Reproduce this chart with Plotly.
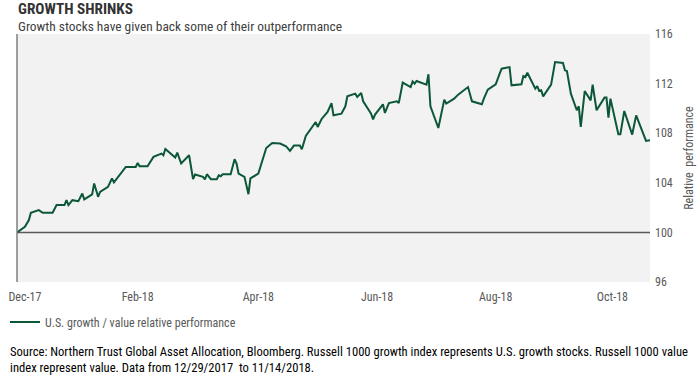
import plotly.graph_objects as go

dates = [
    "2017-12-29", "2018-01-02", "2018-01-04", "2018-01-05", "2018-01-09", "2018-01-11",
    "2018-01-16", "2018-01-18", "2018-01-22", "2018-01-23", "2018-01-24", "2018-01-26",
    "2018-01-29", "2018-01-31", "2018-02-01", "2018-02-05", "2018-02-06", "2018-02-08",
    "2018-02-09", "2018-02-13", "2018-02-15", "2018-02-16", "2018-02-22", "2018-02-27",
    "2018-02-28", "2018-03-01", "2018-03-05", "2018-03-08", "2018-03-12", "2018-03-13",
    "2018-03-14", "2018-03-19", "2018-03-20", "2018-03-22", "2018-03-26", "2018-03-28",
    "2018-03-29", "2018-04-02", "2018-04-03", "2018-04-04", "2018-04-06", "2018-04-09",
    "2018-04-10", "2018-04-11", "2018-04-12", "2018-04-16", "2018-04-18", "2018-04-19",
    "2018-04-20", "2018-04-23", "2018-04-25", "2018-04-26", "2018-04-30", "2018-05-04",
    "2018-05-07", "2018-05-11", "2018-05-14", "2018-05-16", "2018-05-18", "2018-05-21",
    "2018-05-22", "2018-05-24", "2018-05-29", "2018-05-30", "2018-06-01", "2018-06-04",
    "2018-06-06", "2018-06-07", "2018-06-11", "2018-06-13", "2018-06-14", "2018-06-18",
    "2018-06-19", "2018-06-21", "2018-06-22", "2018-06-25", "2018-06-26", "2018-06-27",
    "2018-06-28", "2018-07-02", "2018-07-03", "2018-07-05", "2018-07-09", "2018-07-10",
    "2018-07-12", "2018-07-16", "2018-07-17", "2018-07-18", "2018-07-19", "2018-07-24",
    "2018-07-25", "2018-07-26", "2018-07-30", "2018-08-02", "2018-08-03", "2018-08-07",
    "2018-08-09", "2018-08-14", "2018-08-16", "2018-08-21", "2018-08-22", "2018-08-24",
    "2018-08-28", "2018-08-30", "2018-08-31", "2018-09-04", "2018-09-05", "2018-09-10",
    "2018-09-11", "2018-09-12", "2018-09-13", "2018-09-17", "2018-09-18", "2018-09-19",
    "2018-09-20", "2018-09-21", "2018-09-25", "2018-09-27", "2018-10-01", "2018-10-02",
    "2018-10-03", "2018-10-05", "2018-10-08", "2018-10-09", "2018-10-10", "2018-10-12",
    "2018-10-15", "2018-10-16", "2018-10-18", "2018-10-22", "2018-10-23", "2018-10-24",
    "2018-10-25", "2018-10-29", "2018-10-30", "2018-11-01", "2018-11-05", "2018-11-07",
    "2018-11-12", "2018-11-14",
]

relative_perf = [
    100.00, 100.45, 100.99, 101.58, 101.80, 101.58,
    101.58, 102.20, 102.20, 102.60, 102.20, 102.60,
    102.52, 103.14, 102.66, 103.06, 103.95, 102.87,
    103.27, 103.67, 104.35, 104.03, 105.28, 105.28,
    105.60, 105.34, 105.34, 106.09, 106.36, 106.22,
    106.73, 106.04, 106.44, 105.56, 106.22, 104.29,
    104.67, 104.48, 104.27, 104.69, 104.29, 104.29,
    104.61, 104.53, 104.69, 104.69, 105.90, 105.56,
    104.75, 104.48, 103.08, 104.35, 104.75, 106.81,
    107.21, 107.17, 106.95, 106.57, 107.00, 107.00,
    106.71, 107.78, 108.90, 108.50, 109.15, 109.71,
    110.43, 109.44, 109.58, 110.17, 110.97, 111.19,
    110.92, 111.24, 110.57, 109.77, 109.58, 109.12,
    109.50, 110.33, 109.63, 110.43, 110.57, 110.43,
    112.08, 111.72, 112.18, 112.00, 112.21, 111.92,
    112.75, 110.17, 108.42, 110.71, 110.39, 110.79,
    111.11, 111.72, 110.57, 110.33, 110.79, 111.51,
    111.94, 112.80, 113.20, 113.33, 111.86, 111.94,
    112.61, 112.53, 112.88, 111.59, 111.80, 111.40,
    111.46, 110.97, 111.92, 113.74, 113.66, 113.07,
    113.01, 111.19, 109.85, 110.17, 108.50, 111.40,
    110.65, 111.92, 109.85, 110.87, 110.87, 109.26,
    110.79, 107.91, 107.91, 109.79, 107.89, 109.44,
    107.38, 107.43,
]

x_tick_dates = ["2018-01-02", "2018-02-28", "2018-04-30", "2018-06-29", "2018-08-28", "2018-10-26"]
x_tick_labels = ["Dec-17", "Feb-18", "Apr-18", "Jun-18", "Aug-18", "Oct-18"]
y_ticks = [96, 100, 104, 108, 112, 116]

NARROW = "Liberation Sans Narrow, Arial Narrow, Roboto Condensed, Liberation Sans, sans-serif"
LINE_COLOR = "#0b5738"
GRAY = "#595959"

fig = go.Figure()
fig.add_trace(go.Scatter(
    x=dates, y=relative_perf, mode="lines",
    line=dict(color=LINE_COLOR, width=2),
    name="U.S. growth / value relative performance",
    showlegend=True,
))

fig.update_layout(
    width=700, height=385,
    margin=dict(l=17, r=50, t=34, b=103, autoexpand=False),
    paper_bgcolor="white",
    plot_bgcolor="#f2f2f2",
    font=dict(family=NARROW, size=12, color=GRAY),
    showlegend=True,
    legend=dict(
        orientation="h", x=-0.019, y=-0.103, xanchor="left", yanchor="top",
        font=dict(family=NARROW, size=12, color=GRAY),
        bgcolor="rgba(0,0,0,0)", itemwidth=30,
    ),
    xaxis=dict(
        type="date", range=["2017-12-29", "2018-11-14"],
        tickvals=x_tick_dates, ticktext=x_tick_labels,
        showgrid=False, zeroline=False, showline=False, ticks="",
        automargin=False, ticklabelstandoff=6,
        tickfont=dict(family=NARROW, size=12, color=GRAY),
    ),
    yaxis=dict(
        side="right", range=[96, 116], tickvals=y_ticks,
        showgrid=False, zeroline=False, showline=False, ticks="",
        automargin=False, ticklabelstandoff=4,
        tickfont=dict(family=NARROW, size=12, color=GRAY),
        title=dict(text="Relative  performance", standoff=12,
                   font=dict(family=NARROW, size=12, color=GRAY)),
    ),
    shapes=[
        dict(type="line", xref="paper", yref="y", x0=0, x1=1, y0=100, y1=100,
             line=dict(color="#595959", width=1.5), layer="below"),
        dict(type="line", xref="paper", yref="y", x0=0, x1=0, y0=96, y1=116,
             line=dict(color="#7f7f7f", width=1.5)),
    ],
    annotations=[
        dict(text="<b>GROWTH SHRINKS</b>", xref="paper", yref="paper",
             x=0, y=1, xanchor="left", yanchor="bottom", yshift=15, showarrow=False,
             borderpad=0,
             font=dict(family=NARROW, size=15.2, color="#333333")),
        dict(text="Growth stocks have given back some of their outperformance",
             xref="paper", yref="paper", x=0, y=1, xanchor="left", yanchor="bottom",
             yshift=-1, showarrow=False, borderpad=0,
             font=dict(family=NARROW, size=13.4, color="#404040")),
        dict(text="Source: Northern Trust Global Asset Allocation, Bloomberg. Russell 1000 growth index represents U.S. growth stocks. Russell 1000 value<br>index represent value. Data from 12/29/2017  to 11/14/2018.",
             xref="paper", yref="paper", x=-0.014, y=0, xanchor="left", yanchor="top",
             yshift=-60, showarrow=False, align="left",
             font=dict(family=NARROW, size=12.6, color="#000000")),
    ],
)

fig.write_html("out.html", config={"displayModeBar": False},
               post_script="document.body.style.margin='0';")
